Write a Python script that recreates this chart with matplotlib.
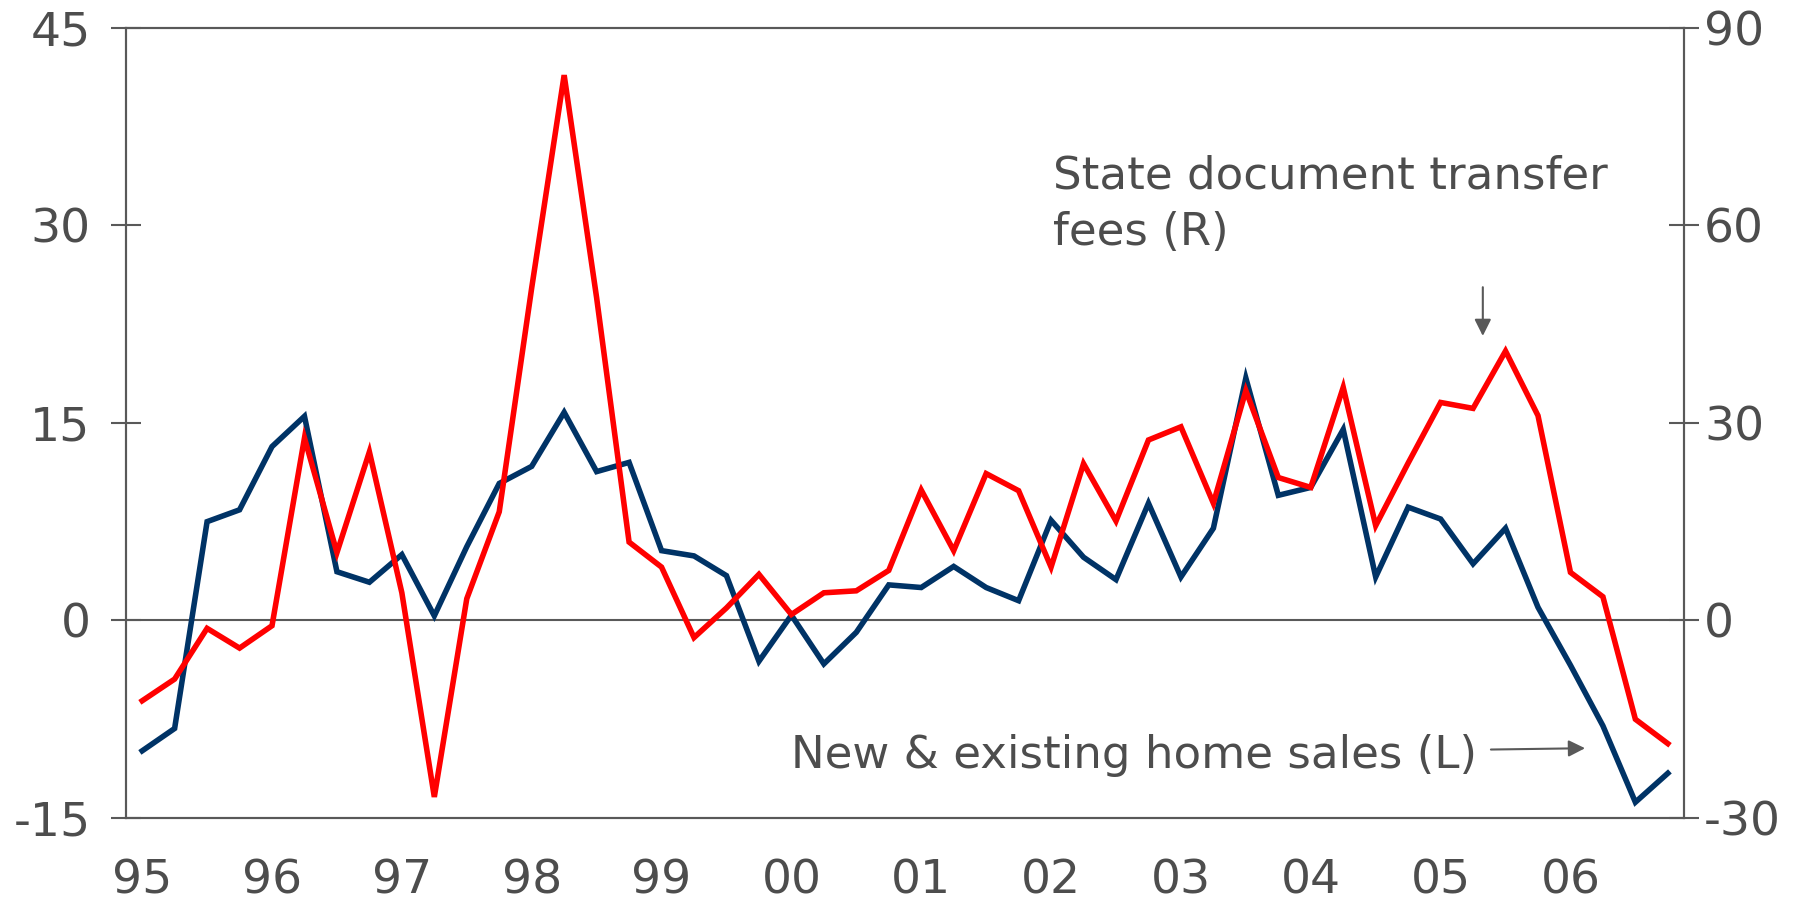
import matplotlib
matplotlib.use("Agg")
import matplotlib.pyplot as plt

# Quarterly series, 1995Q1 - 2006Q4 (% y/y)
quarters = [f"{y}Q{q}" for y in range(1995, 2007) for q in range(1, 5)]

# New & existing home sales, left axis
home_sales = [
    -9.9, -8.2, 7.5, 8.4, 13.2, 15.5, 3.7, 2.9, 5.0, 0.35, 5.6, 10.4,
    11.7, 15.8, 11.3, 12.0, 5.3, 4.9, 3.4, -3.1, 0.4, -3.3, -0.9, 2.7,
    2.5, 4.1, 2.5, 1.5, 7.6, 4.8, 3.1, 8.9, 3.3, 7.0, 18.4, 9.5,
    10.1, 14.5, 3.3, 8.6, 7.7, 4.3, 7.0, 1.0, -3.4, -8.0, -13.8, -11.6,
]

# State document transfer fees, right axis
transfer_fees = [
    -12.2, -8.9, -1.2, -4.2, -0.8, 27.7, 10.3, 25.6, 4.2, -26.8, 3.3, 16.5,
    50.5, 82.8, 49.0, 11.9, 8.1, -2.6, 1.9, 7.0, 0.9, 4.2, 4.5, 7.6,
    19.8, 10.6, 22.3, 19.7, 8.1, 23.8, 15.1, 27.4, 29.4, 17.8, 34.9, 21.7,
    20.2, 35.4, 14.4, 23.9, 33.1, 32.2, 40.9, 31.1, 7.3, 3.6, -15.0, -18.7,
]

year_labels = ["95", "96", "97", "98", "99", "00", "01", "02", "03", "04", "05", "06"]
left_ticks = [-15, 0, 15, 30, 45]
right_ticks = [-30, 0, 30, 60, 90]

BLUE = "#003366"
RED = "#ff0000"
GREY = "#595959"
TEXT = "#4d4d4d"
TICK_FONT = 34
NOTE_FONT = 32.5

plt.rcParams["font.family"] = ["DejaVu Sans"]

fig = plt.figure(figsize=(18.12, 9.06), dpi=100)
ax = fig.add_axes([0.0695, 0.0971, 0.8599, 0.8723])
ax2 = ax.twinx()

x = list(range(len(quarters)))
ax.plot(x, home_sales, color=BLUE, lw=4.0, solid_joinstyle="miter")
ax2.plot(x, transfer_fees, color=RED, lw=4.0, solid_joinstyle="miter")
ax.axhline(0, color=GREY, lw=1.5, zorder=0)

ax.set_xlim(-0.5, len(quarters) - 0.5)
ax.set_ylim(-15, 45)
ax2.set_ylim(-30, 90)

ax.set_yticks(left_ticks)
ax.set_yticklabels([str(t) for t in left_ticks])
ax2.set_yticks(right_ticks)
ax2.set_yticklabels([str(t) for t in right_ticks])
ax.set_xticks([i * 4 for i in range(len(year_labels))])
ax.set_xticklabels(year_labels)

ax.tick_params(axis="y", direction="inout", length=21, width=1.5, color=GREY,
               labelsize=TICK_FONT, labelcolor=TEXT, pad=15)
ax2.tick_params(axis="y", direction="inout", length=21, width=1.5, color=GREY,
                labelsize=TICK_FONT, labelcolor=TEXT, pad=4)
ax.tick_params(axis="x", length=0, labelsize=TICK_FONT, labelcolor=TEXT, pad=29)

for a in (ax, ax2):
    for s in a.spines.values():
        s.set_color(GREY)
        s.set_linewidth(1.5)

# series labels
ax.text(28.05, 35.4, "State document transfer\nfees (R)", fontsize=NOTE_FONT,
        color=TEXT, ha="left", va="top", linespacing=1.4)
ax.annotate("", xy=(41.3, 21.6), xytext=(41.3, 25.3),
            arrowprops=dict(arrowstyle="-|>", color=GREY, lw=1.5,
                            mutation_scale=25, shrinkA=0, shrinkB=0))

ax.text(20.0, -11.2, "New & existing home sales (L)", fontsize=NOTE_FONT,
        color=TEXT, ha="left", va="baseline")
ax.annotate("", xy=(44.45, -9.7), xytext=(41.55, -9.8),
            arrowprops=dict(arrowstyle="-|>", color=GREY, lw=1.5,
                            mutation_scale=25, shrinkA=0, shrinkB=0))

fig.savefig("out.png", dpi=100)
